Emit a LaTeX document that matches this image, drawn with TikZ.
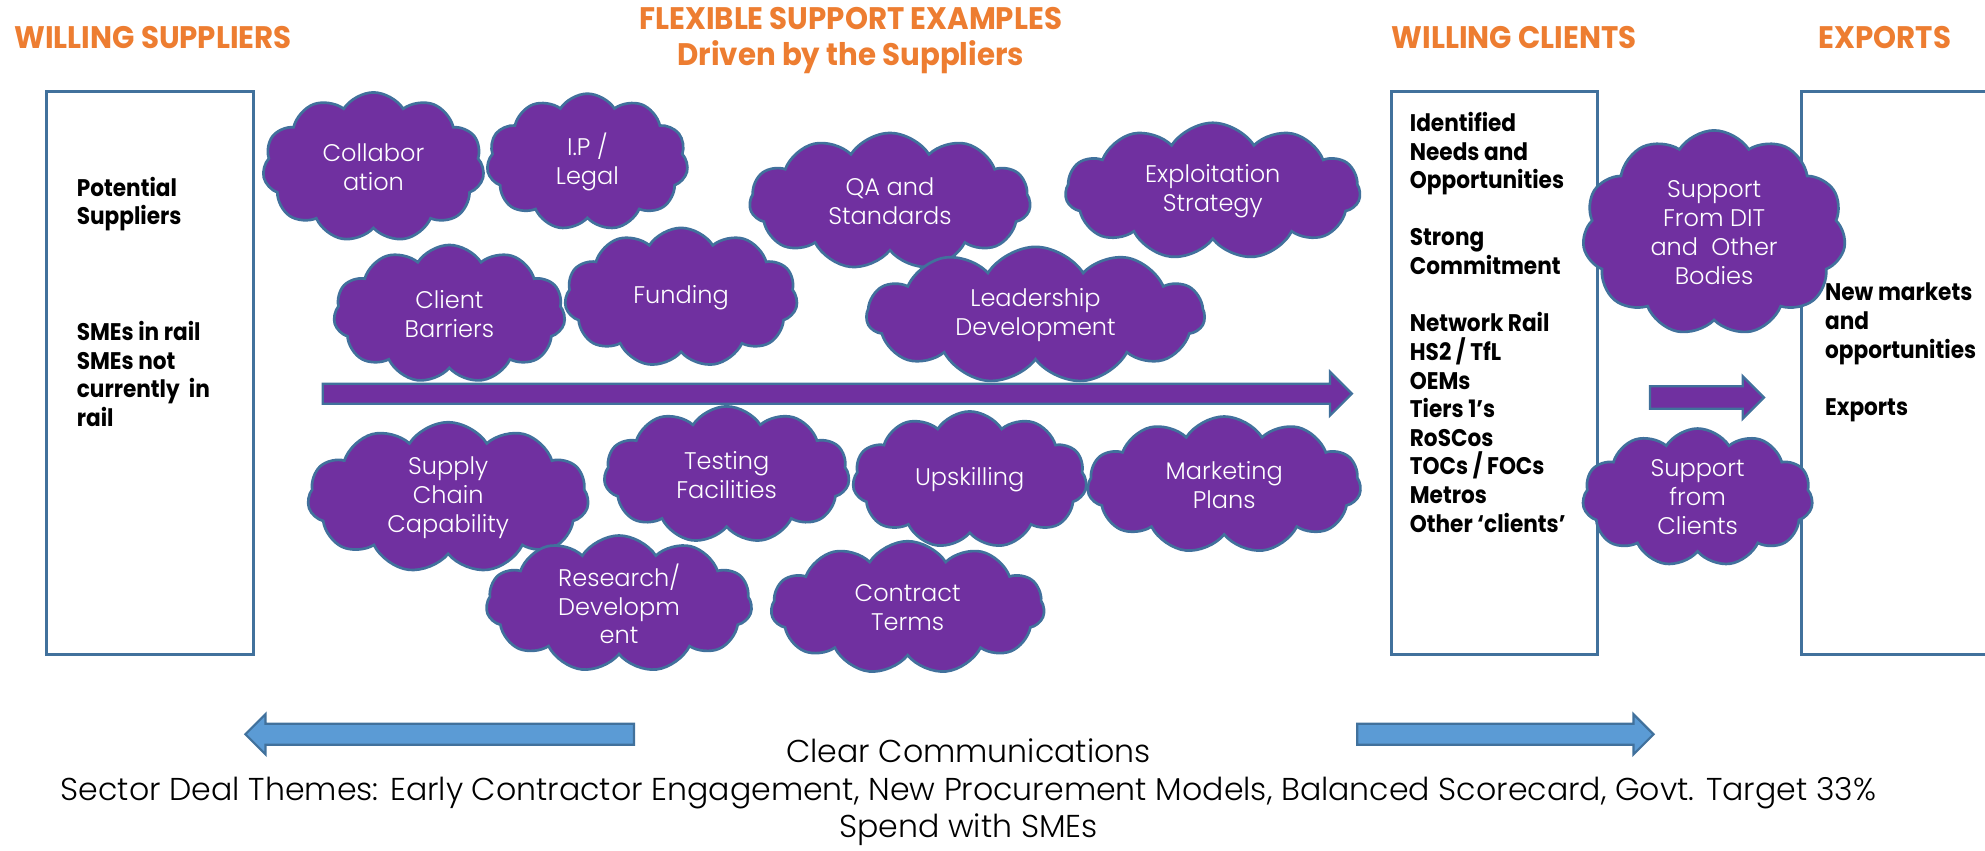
\documentclass[tikz,border=0pt]{standalone}
\usepackage{fontspec}
\setmainfont{Poppins}
\newfontfamily\titlefont{Poppins}[FakeStretch=0.94]
\newfontfamily\listfont{Poppins}[FakeStretch=0.9]
\newfontfamily\thinfont{Poppins Light}
\usetikzlibrary{shapes.symbols,shapes.arrows}

\definecolor{plum}{HTML}{7030A0}
\definecolor{rim}{HTML}{41719C}
\definecolor{tangerine}{HTML}{ED7D31}
\definecolor{sky}{HTML}{5B9BD5}

\begin{document}
\begin{tikzpicture}[x=0.1mm, y=-0.1mm,
  heading/.style={text=tangerine, align=center, inner sep=0pt,
    font=\titlefont\bfseries\fontsize{7}{8}\selectfont},
  topic/.style={cloud, cloud puffs=11, cloud puff arc=115, cloud ignores aspect,
    fill=plum, draw=rim, line width=0.6pt, text=white, align=center, inner sep=0pt,
    font=\thinfont\fontsize{5.4}{6.5}\selectfont},
  panel/.style={draw=rim, line width=0.7pt, inner sep=0pt, minimum width=16.3mm, minimum height=44.5mm},
  entries/.style={anchor=north west, align=left, inner sep=0pt,
    font=\listfont\bfseries\fontsize{5.4}{6.43}\selectfont},
  flow/.style={single arrow, fill=plum, draw=rim, line width=0.5pt, inner xsep=0pt},
  talk/.style={single arrow, fill=sky, draw=rim, line width=0.5pt, inner xsep=0pt,
    inner ysep=0.75mm, minimum width=3mm, single arrow head extend=0.75mm}
]
\useasboundingbox (0,0) rectangle (1568,672);

% column headings
\node[heading] (hsup) at (121,30) {WILLING SUPPLIERS};
\node[heading] (hflex) at (672,32) {FLEXIBLE SUPPORT EXAMPLES\\Driven by the Suppliers};
\node[heading] (hcli) at (1196,30) {WILLING CLIENTS};
\node[heading] (hexp) at (1489,30) {EXPORTS};

% the three columns
\node[panel] (sup) at (118.5,294.5) {};
\node[panel] (cli) at (1180.5,294.5) {};
\draw[draw=rim, line width=0.7pt] (1570,72) -- (1423,72) -- (1423,517) -- (1570,517);

\node[entries] (potential) at (60,139) {Potential\\Suppliers};
\node[entries] (smes) at (60,253) {SMEs in rail\\SMEs not\\currently~ in\\rail};
\node[entries] (needs) at (1113,88) {Identified\\Needs and\\Opportunities\\[6.43pt]Strong\\Commitment\\[6.43pt]Network Rail\\HS2 / TfL\\OEMs\\Tiers 1’s\\RoSCos\\TOCs / FOCs\\Metros\\Other ‘clients’};
\node[entries] (markets) at (1441,223) {New markets\\and\\opportunities\\[6.43pt]Exports};

% arrows
\node[flow, minimum height=81.3mm, minimum width=3.3mm, inner ysep=0.7mm, single arrow head extend=0.95mm] (main) at (657.5,311) {};
\node[flow, minimum height=9mm, minimum width=3.2mm, inner ysep=0.8mm, single arrow head extend=0.8mm] (onward) at (1344,314) {};
\node[talk, minimum height=30.7mm, shape border rotate=180] (back) at (351.5,580) {};
\node[talk, minimum height=23.4mm] (fwd) at (1185,580) {};

% support clouds, upper row
\node[topic, minimum width=17.5mm, minimum height=11.8mm] (collab) at (295,132) {Collabor\\ation};
\node[topic, minimum width=15.9mm, minimum height=10.8mm] (ip) at (464,128) {I.P /\\Legal};
\node[topic, minimum width=22.2mm, minimum height=10.8mm] (qa) at (703,159) {QA and\\Standards};
\node[topic, minimum width=23.3mm, minimum height=10.8mm] (exploit) at (958,151) {Exploitation\\Strategy};
\node[topic, minimum width=18.3mm, minimum height=10.9mm] (barriers) at (355,248) {Client\\Barriers};
\node[topic, minimum width=18.4mm, minimum height=11mm] (funding) at (538,235) {Funding};
\node[topic, minimum width=26.7mm, minimum height=10.8mm] (lead) at (818,249) {Leadership\\Development};

% support clouds, lower row
\node[topic, minimum width=22.2mm, minimum height=11.9mm] (supply) at (354,393) {Supply\\Chain\\Capability};
\node[topic, minimum width=19.4mm, minimum height=10.8mm] (testing) at (574,375) {Testing\\Facilities};
\node[topic, minimum width=18.5mm, minimum height=10.8mm] (upskill) at (766,379) {Upskilling};
\node[topic, minimum width=21.6mm, minimum height=10.8mm] (marketing) at (967,383) {Marketing\\Plans};
\node[topic, minimum width=21mm, minimum height=10.8mm] (research) at (489,477) {Research/\\Developm\\ent};
\node[topic, minimum width=21.6mm, minimum height=10.5mm] (contract) at (717,480) {Contract\\Terms};

% clouds between clients and exports
\node[topic, minimum width=20.8mm, minimum height=16.2mm] (dit) at (1354,184) {Support\\From DIT\\and~ Other\\Bodies};
\node[topic, minimum width=18.2mm, minimum height=10.9mm] (fromcli) at (1341,393) {Support\\from\\Clients};

% footer
\node[align=center, inner sep=0pt, font=\thinfont\fontsize{7.1}{8.4}\selectfont] (themes) at (765,626)
  {Clear Communications\\Sector Deal Themes: Early Contractor Engagement, New Procurement Models, Balanced Scorecard, Govt. Target 33\%\\Spend with SMEs};
\end{tikzpicture}
\end{document}
